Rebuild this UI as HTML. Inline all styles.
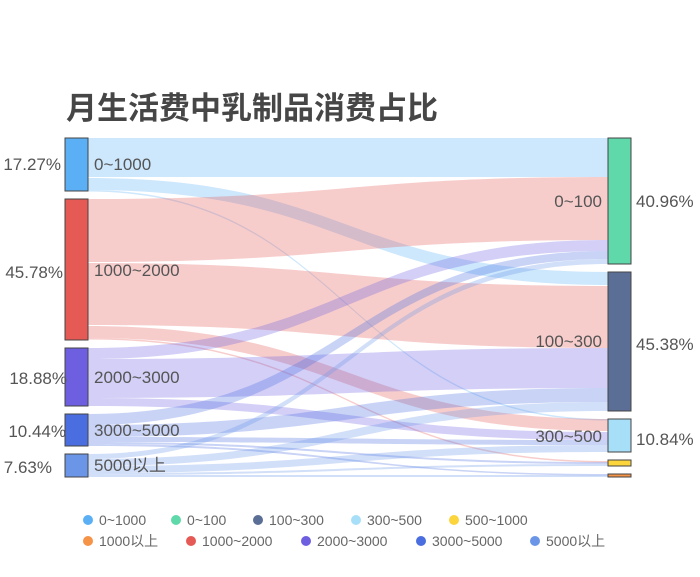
<!DOCTYPE html>
<html><head><meta charset="utf-8"><style>
body{margin:0;background:#fff;}
svg text{font-family:"Liberation Sans","Noto Sans CJK SC",sans-serif;}
</style></head><body>
<svg width="700" height="572" viewBox="0 0 700 572" xmlns="http://www.w3.org/2000/svg">
<text x="66" y="119" font-size="31" font-weight="bold" fill="#464646">月生活费中乳制品消费占比</text>
<g fill-opacity="0.3">
<path d="M88 138C348 138 348 138 608 138L608 177C348 177 348 177 88 177Z" fill="#5bb0f5"/>
<path d="M88 178C348 178 348 272 608 272L608 285C348 285 348 190 88 190Z" fill="#5bb0f5"/>
<path d="M88 190C348 190 348 419 608 419L608 420.5C348 420.5 348 191.5 88 191.5Z" fill="#5bb0f5"/>
<path d="M88 199C348 199 348 177 608 177L608 240C348 240 348 262 88 262Z" fill="#e55a55"/>
<path d="M88 263C348 263 348 286 608 286L608 348C348 348 348 325 88 325Z" fill="#e55a55"/>
<path d="M88 326C348 326 348 419 608 419L608 431C348 431 348 338 88 338Z" fill="#e55a55"/>
<path d="M88 338C348 338 348 461 608 461L608 462.5C348 462.5 348 339.5 88 339.5Z" fill="#e55a55"/>
<path d="M88 348C348 348 348 240 608 240L608 251C348 251 348 359 88 359Z" fill="#6e5fe0"/>
<path d="M88 359C348 359 348 348 608 348L608 388C348 388 348 398 88 398Z" fill="#6e5fe0"/>
<path d="M88 398C348 398 348 432 608 432L608 440C348 440 348 406 88 406Z" fill="#6e5fe0"/>
<path d="M88 414C348 414 348 251 608 251L608 259C348 259 348 425 88 425Z" fill="#4a6ee0"/>
<path d="M88 425C348 425 348 388 608 388L608 402C348 402 348 437 88 437Z" fill="#4a6ee0"/>
<path d="M88 437C348 437 348 440 608 440L608 445C348 445 348 442 88 442Z" fill="#4a6ee0"/>
<path d="M88 442C348 442 348 462 608 462L608 464C348 464 348 444 88 444Z" fill="#4a6ee0"/>
<path d="M88 444C348 444 348 474 608 474L608 475.5C348 475.5 348 446 88 446Z" fill="#4a6ee0"/>
<path d="M88 454C348 454 348 259 608 259L608 264C348 264 348 459 88 459Z" fill="#6b96e8"/>
<path d="M88 459C348 459 348 402 608 402L608 411C348 411 348 466 88 466Z" fill="#6b96e8"/>
<path d="M88 466C348 466 348 445 608 445L608 452C348 452 348 473 88 473Z" fill="#6b96e8"/>
<path d="M88 473C348 473 348 464 608 464L608 466C348 466 348 475 88 475Z" fill="#6b96e8"/>
<path d="M88 475C348 475 348 475 608 475L608 477C348 477 348 477 88 477Z" fill="#6b96e8"/>
</g>
<g stroke="#444" stroke-width="1">
<rect x="65" y="138" width="23" height="53" fill="#5bb0f5"/>
<rect x="65" y="199" width="23" height="141" fill="#e55a55"/>
<rect x="65" y="348" width="23" height="58" fill="#6e5fe0"/>
<rect x="65" y="414" width="23" height="32" fill="#4a6ee0"/>
<rect x="65" y="454" width="23" height="23" fill="#6b96e8"/>
<rect x="608" y="138" width="23" height="126" fill="#5fd8aa"/>
<rect x="608" y="272" width="23" height="139" fill="#5b6e96"/>
<rect x="608" y="419" width="23" height="33" fill="#a8dff8"/>
<rect x="608" y="460" width="23" height="6" fill="#fcd43c"/>
<rect x="608" y="474" width="23" height="3" fill="#f59347"/>
</g>
<g font-size="17" fill="#555">
<text x="94" y="170">0~1000</text>
<text x="94" y="276">1000~2000</text>
<text x="94" y="383">2000~3000</text>
<text x="94" y="436">3000~5000</text>
<text x="94" y="471">5000以上</text>
<text x="602" y="207" text-anchor="end">0~100</text>
<text x="602" y="347" text-anchor="end">100~300</text>
<text x="602" y="442" text-anchor="end">300~500</text>
<text x="61" y="170" text-anchor="end">17.27%</text>
<text x="63" y="278" text-anchor="end">45.78%</text>
<text x="67" y="384" text-anchor="end">18.88%</text>
<text x="66" y="437" text-anchor="end">10.44%</text>
<text x="52" y="473" text-anchor="end">7.63%</text>
<text x="636" y="207">40.96%</text>
<text x="636" y="350">45.38%</text>
<text x="636" y="445">10.84%</text>
</g>
<g font-size="14" fill="#666">
<circle cx="88" cy="520" r="5" fill="#5bb0f5"/><text x="99" y="525">0~1000</text>
<circle cx="176" cy="520" r="5" fill="#5fd8aa"/><text x="187" y="525">0~100</text>
<circle cx="258" cy="520" r="5" fill="#5b6e96"/><text x="269" y="525">100~300</text>
<circle cx="356" cy="520" r="5" fill="#a8dff8"/><text x="367" y="525">300~500</text>
<circle cx="454" cy="520" r="5" fill="#fcd43c"/><text x="465" y="525">500~1000</text>
<circle cx="88" cy="541" r="5" fill="#f59347"/><text x="99" y="546">1000以上</text>
<circle cx="191" cy="541" r="5" fill="#e55a55"/><text x="202" y="546">1000~2000</text>
<circle cx="306" cy="541" r="5" fill="#6e5fe0"/><text x="317" y="546">2000~3000</text>
<circle cx="421" cy="541" r="5" fill="#4a6ee0"/><text x="432" y="546">3000~5000</text>
<circle cx="535" cy="541" r="5" fill="#6b96e8"/><text x="546" y="546">5000以上</text>
</g>
</svg>
</body></html>
